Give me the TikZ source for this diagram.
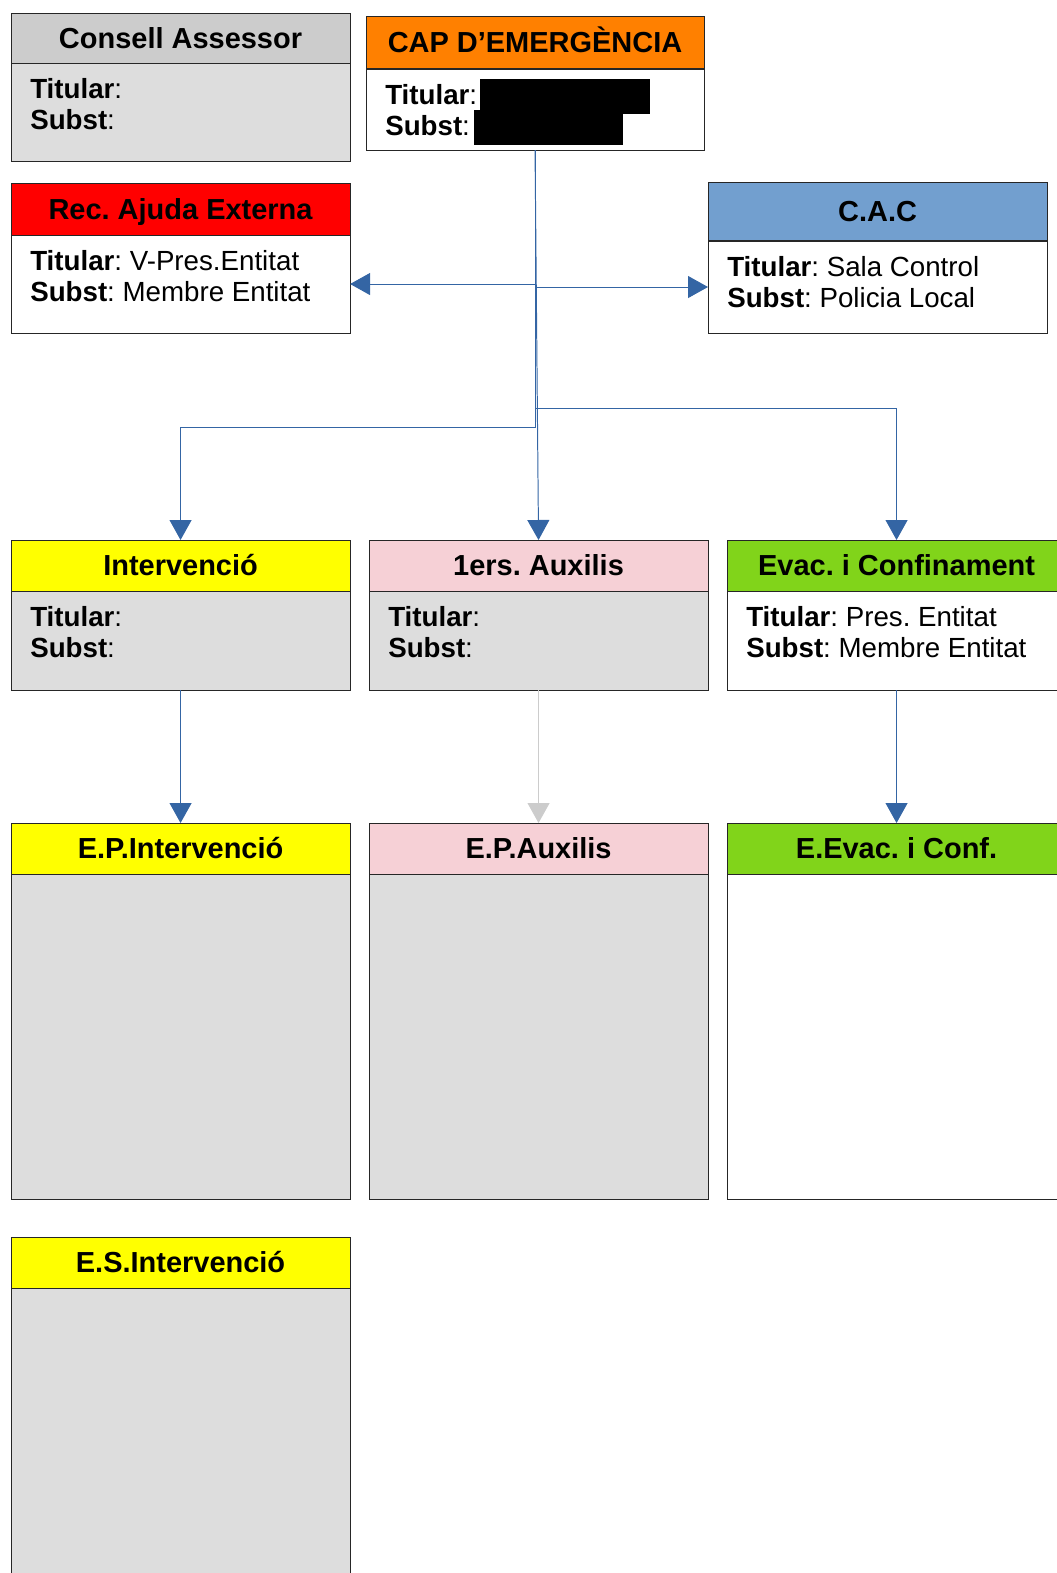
\documentclass[tikz,border=0pt]{standalone}
\usepackage{fontspec}
\setmainfont{Liberation Sans}
\usetikzlibrary{arrows.meta}
\definecolor{hgray}{HTML}{CCCCCC}
\definecolor{bgray}{HTML}{DDDDDD}
\definecolor{caporange}{HTML}{FF8000}
\definecolor{recred}{HTML}{FF0000}
\definecolor{cacblue}{HTML}{729FCF}
\definecolor{intyellow}{HTML}{FFFF00}
\definecolor{auxpink}{HTML}{F6D0D6}
\definecolor{evacgreen}{HTML}{81D41A}
\definecolor{linkblue}{HTML}{3465A4}
\definecolor{lgray}{HTML}{CCCCCC}
\frenchspacing

\begin{document}
\begin{tikzpicture}[x=0.025cm, y=-0.025cm,
    hdr/.style={draw=black!85, line width=0.7pt, anchor=north west, minimum width=8.475cm,
      inner sep=0pt, outer sep=0pt, text height=14.8pt, text depth=0pt,
      font=\fontsize{20.6}{24}\selectfont\bfseries},
    bdy/.style={draw=black!85, line width=0.7pt, anchor=north west, minimum width=8.475cm,
      inner sep=0pt, outer sep=0pt},
    txt/.style={anchor=north west, inner sep=0pt, align=left, font=\fontsize{19.7}{22}\selectfont},
    link/.style={draw=linkblue, line width=0.7pt, -{Triangle[width=0.55cm,length=0.5cm]}}]
    \useasboundingbox (0,0) rectangle (1057,1573);
    \clip (0,0) rectangle (1057,1573);
    \node[bdy, fill=bgray, minimum height=2.45cm] (consB) at (11,63) {};
    \node[hdr, fill=hgray, minimum height=1.25cm] (cons) at (11,13) {Consell Assessor};
    \node[txt] (consT) at ([shift={(19,15)}]consB.north west) {\textbf{Titular}:\\\textbf{Subst}:};
    \node[bdy, fill=white, minimum width=8.45cm, minimum height=2.025cm] (capB) at (366,69) {};
    \node[hdr, fill=caporange, minimum width=8.45cm, minimum height=1.3cm] (cap) at (366,16) {CAP D’EMERGÈNCIA};
    \node[txt] (capT) at ([shift={(19,15)}]capB.north west) {\textbf{Titular}:\\\textbf{Subst}:};
    \fill (480,79) rectangle (650,114);
    \fill (474,110) rectangle (623,145);
    \node[bdy, fill=white, minimum height=2.45cm] (recB) at (11,235) {};
    \node[hdr, fill=recred, minimum height=1.3cm] (rec) at (11,183) {Rec. Ajuda Externa};
    \node[txt] (recT) at ([shift={(19,15)}]recB.north west) {\textbf{Titular}: V-Pres.Entitat\\\textbf{Subst}: Membre Entitat};
    \node[bdy, fill=white, minimum height=2.3cm] (cacB) at (708,241) {};
    \node[hdr, fill=cacblue, minimum height=1.45cm] (cac) at (708,182) {C.A.C};
    \node[txt] (cacT) at ([shift={(19,15)}]cacB.north west) {\textbf{Titular}: Sala Control\\\textbf{Subst}: Policia Local};
    \node[bdy, fill=bgray, minimum height=2.475cm] (intB) at (11,591) {};
    \node[hdr, fill=intyellow, minimum height=1.275cm] (int) at (11,540) {Intervenció};
    \node[txt] (intT) at ([shift={(19,15)}]intB.north west) {\textbf{Titular}:\\\textbf{Subst}:};
    \node[bdy, fill=bgray, minimum height=2.475cm] (auxB) at (369,591) {};
    \node[hdr, fill=auxpink, minimum height=1.275cm] (aux) at (369,540) {1ers. Auxilis};
    \node[txt] (auxT) at ([shift={(19,15)}]auxB.north west) {\textbf{Titular}:\\\textbf{Subst}:};
    \node[bdy, fill=white, minimum height=2.475cm] (evacB) at (727,591) {};
    \node[hdr, fill=evacgreen, minimum height=1.275cm] (evac) at (727,540) {Evac. i Confinament};
    \node[txt] (evacT) at ([shift={(19,15)}]evacB.north west) {\textbf{Titular}: Pres. Entitat\\\textbf{Subst}: Membre Entitat};
    \node[bdy, fill=bgray, minimum height=8.125cm] (epiB) at (11,874) {};
    \node[hdr, fill=intyellow, minimum height=1.275cm] (epi) at (11,823) {E.P.Intervenció};
    \node[bdy, fill=bgray, minimum height=8.125cm] (epaB) at (369,874) {};
    \node[hdr, fill=auxpink, minimum height=1.275cm] (epa) at (369,823) {E.P.Auxilis};
    \node[bdy, fill=white, minimum height=8.125cm] (epeB) at (727,874) {};
    \node[hdr, fill=evacgreen, minimum height=1.275cm] (epe) at (727,823) {E.Evac. i Conf.};
    \node[bdy, fill=bgray, minimum height=7.8cm] (esiB) at (11,1288) {};
    \node[hdr, fill=intyellow, minimum height=1.275cm] (esi) at (11,1237) {E.S.Intervenció};
    \coordinate (bendL) at (0,427);
    \coordinate (bendR) at (0,408);
    \draw[link] (capB.south) |- (recB.east);
    \draw[link] (capB.south) |- (cacB.west);
    \draw[link] (capB.south) -- (aux.north);
    \draw[link] (capB.south) -- (capB.south |- bendL) -| (int.north);
    \draw[link] (capB.south) -- (capB.south |- bendR) -| (evac.north);
    \draw[link] (intB.south) -- (epi.north);
    \draw[link, draw=lgray] (auxB.south) -- (epa.north);
    \draw[link] (evacB.south) -- (epe.north);
\end{tikzpicture}
\end{document}
